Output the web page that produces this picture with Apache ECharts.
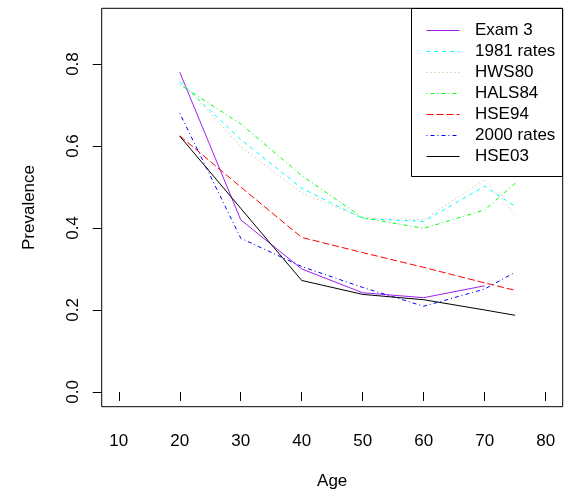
<!DOCTYPE html>
<html>
<head>
<meta charset="utf-8">
<script src="https://cdn.jsdelivr.net/npm/echarts@6/dist/echarts.min.js"></script>
<style>html,body{margin:0;padding:0;background:#fff;}#c{width:569px;height:496px;}</style>
</head>
<body>
<div id="c"></div>
<script>
var ages = [20, 30, 40, 50, 60, 70, 75];
var exam3 = [0.78, 0.42, 0.30, 0.242, 0.23, 0.259, null];
var rates1981 = [0.757, 0.616, 0.497, 0.423, 0.416, 0.502, 0.453];
var hws80 = [0.762, 0.598, 0.485, 0.425, 0.42, 0.518, 0.432];
var hals84 = [0.750, 0.654, 0.528, 0.425, 0.399, 0.444, 0.509];
var hse94 = [0.625, 0.50, 0.377, 0.34, 0.304, 0.266, 0.248];
var rates2000 = [0.68, 0.375, 0.306, 0.255, 0.209, 0.251, 0.292];
var hse03 = [0.624, 0.448, 0.272, 0.238, 0.225, 0.20, 0.187];
var xTicks = [10, 20, 30, 40, 50, 60, 70, 80];
var yTicks = [0, 0.2, 0.4, 0.6, 0.8];

var seriesDefs = [
  {name: 'Exam 3', data: exam3, color: '#A020F0', dash: 'solid'},
  {name: '1981 rates', data: rates1981, color: '#00FFFF', dash: [4, 4]},
  {name: 'HWS80', data: hws80, color: '#D2B48C', dash: [1, 3]},
  {name: 'HALS84', data: hals84, color: '#00FF00', dash: [1, 3, 4, 3]},
  {name: 'HSE94', data: hse94, color: '#FF0000', dash: [7, 3]},
  {name: '2000 rates', data: rates2000, color: '#0000FF', dash: [1, 3, 4, 3]},
  {name: 'HSE03', data: hse03, color: '#000000', dash: 'solid'}
];

var font = 'Liberation Sans';

// legend drawn as graphic (box + sample lines + labels)
var legendBox = {x: 411.5, y: 8.5, w: 151, h: 168, rowTop: 29.5, rowStep: 21, lineX0: 426.5, lineX1: 459.5, textX: 475};
var legendChildren = [{
  type: 'rect', shape: {x: legendBox.x, y: legendBox.y, width: legendBox.w, height: legendBox.h},
  style: {fill: '#fff', stroke: '#000', lineWidth: 1}
}];
seriesDefs.forEach(function (s, i) {
  var yy = Math.round(legendBox.rowTop + legendBox.rowStep * i) + 0.5;
  legendChildren.push({
    type: 'line', shape: {x1: legendBox.lineX0, y1: yy, x2: legendBox.lineX1, y2: yy},
    style: {stroke: s.color, lineWidth: 1, lineDash: s.dash === 'solid' ? null : s.dash}
  });
  legendChildren.push({
    type: 'text', x: legendBox.textX, y: yy,
    style: {text: s.name, fontFamily: font, fontSize: 17, fill: '#000', verticalAlign: 'middle', align: 'left'}
  });
});

var chart = echarts.init(document.getElementById('c'), null, {renderer: 'canvas'});
chart.setOption({
  animation: false,
  backgroundColor: '#fff',
  textStyle: {fontFamily: font},
  grid: {left: 101.7, right: 6.3, top: 8.3, bottom: 89.3, show: true, borderColor: '#000', borderWidth: 1, backgroundColor: 'transparent'},
  graphic: [{type: 'group', z: 100, children: legendChildren}],
  xAxis: {
    type: 'value', min: 7.2, max: 82.8,
    name: 'Age', nameLocation: 'middle', nameGap: 66,
    nameTextStyle: {fontFamily: font, fontSize: 17, color: '#000'},
    axisLine: {show: false},
    axisTick: {show: true, length: 9, lineStyle: {color: '#000'}, customValues: xTicks},
    axisLabel: {fontFamily: font, fontSize: 17, color: '#000', margin: 26, customValues: xTicks},
    splitLine: {show: false}
  },
  yAxis: {
    type: 'value', min: -0.036, max: 0.936,
    name: 'Prevalence', nameLocation: 'middle', nameGap: 64,
    nameTextStyle: {fontFamily: font, fontSize: 17, color: '#000'},
    axisLine: {show: false},
    axisTick: {show: true, length: 9, lineStyle: {color: '#000'}, customValues: yTicks},
    axisLabel: {fontFamily: font, fontSize: 17, color: '#000', margin: 20, rotate: 90,
      customValues: yTicks, formatter: function (v) { return v.toFixed(1); }},
    splitLine: {show: false}
  },
  series: seriesDefs.map(function (s) {
    return {
      name: s.name, type: 'line', symbol: 'none', silent: true,
      connectNulls: false,
      data: ages.map(function (a, i) { return [a, s.data[i]]; }).filter(function (p) { return p[1] !== null; }),
      lineStyle: {color: s.color, width: 1, type: s.dash},
      itemStyle: {color: s.color}
    };
  })
});
</script>
</body>
</html>
